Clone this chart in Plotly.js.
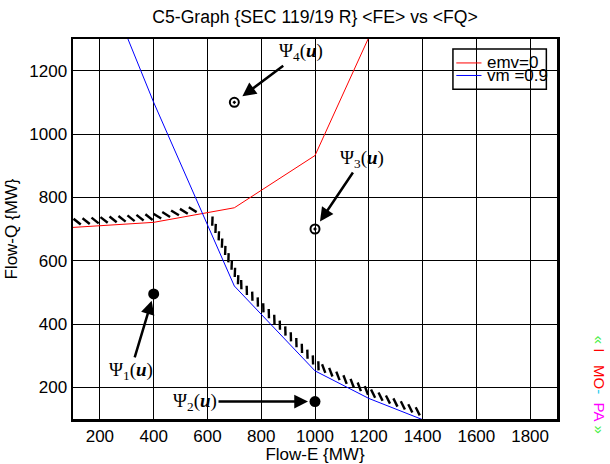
<!DOCTYPE html>
<html>
<head>
<meta charset="utf-8">
<script src="https://cdn.plot.ly/plotly-3.0.1.min.js"></script>
<style>html,body{margin:0;padding:0;background:#fff;}#chart{width:610px;height:464px;}</style>
</head>
<body>
<div id="chart"></div>
<script>
// ---- data ----
const xRange = [100, 1900];
const yRange = [100, 1300];
const xTicks = [200, 400, 600, 800, 1000, 1200, 1400, 1600, 1800];
const yTicks = [200, 400, 600, 800, 1000, 1200];

const emvE = [100, 400, 700, 1000, 1200];
const emvQ = [705, 721, 767, 932, 1305];

const vmE = [290, 400, 700, 1000, 1200, 1400];
const vmQ = [1330, 1100, 520, 252, 165, 98];

// hatched boundary spans (Flow-E ranges) along each curve
const hatchEmvSpan = [100, 558];
const hatchVmSpan = [592, 1378];

// operating points
const psiNames = ['1', '2', '3', '4'];
const psiE = [400, 1000, 1000, 700];
const psiQ = [495, 155, 700, 1100];

// ---- plot geometry ----
const W = 610, H = 464;
const M = {l: 73, r: 53, t: 39, b: 45};
const PW = W - M.l - M.r, PH = H - M.t - M.b;
const toPx = (e, q) => [ (e - xRange[0]) / (xRange[1] - xRange[0]) * PW,
                         (yRange[1] - q) / (yRange[1] - yRange[0]) * PH ];
const toData = (x, y) => [ xRange[0] + x / PW * (xRange[1] - xRange[0]),
                           yRange[1] - y / PH * (yRange[1] - yRange[0]) ];

function interp(xs, ys, x) {
  for (let i = 0; i < xs.length - 1; i++) {
    if (x >= xs[i] && x <= xs[i + 1]) {
      const t = (x - xs[i]) / (xs[i + 1] - xs[i]);
      return ys[i] + t * (ys[i + 1] - ys[i]);
    }
  }
  return null;
}

// hatch marks: resample curve in pixel space, offset to the upper side,
// each mark tilted relative to the local tangent
function hatch(xs, ys, span, step, off) {
  const e0 = span[0], e1 = span[1];
  const poly = [[e0, interp(xs, ys, e0)]];
  xs.forEach((e, i) => { if (e > e0 && e < e1) poly.push([e, ys[i]]); });
  poly.push([e1, interp(xs, ys, e1)]);
  const pp = poly.map(p => toPx(p[0], p[1]));
  let carry = step / 2;
  const outE = [], outQ = [], ang = [];
  for (let i = 0; i < pp.length - 1; i++) {
    const [x0, y0] = pp[i], [x1, y1] = pp[i + 1];
    const dx = x1 - x0, dy = y1 - y0, L = Math.hypot(dx, dy);
    const nx = dy / L, ny = -dx / L;
    const tdeg = Math.atan2(dy, dx) * 180 / Math.PI;
    const dir = Math.min(tdeg + 42, 92);
    let s = carry;
    while (s <= L) {
      const x = x0 + dx * s / L + nx * off;
      const y = y0 + dy * s / L + ny * off;
      const d = toData(x, y);
      outE.push(d[0]); outQ.push(d[1]); ang.push(dir - 45);
      s += step;
    }
    carry = s - L;
  }
  return [outE, outQ, ang];
}

const h1 = hatch(emvE, emvQ, hatchEmvSpan, 9, 5.5);
const h2 = hatch(vmE, vmQ, hatchVmSpan, 8, 6);

const traces = [
  {x: emvE, y: emvQ, mode: 'lines', name: 'emv=0', line: {color: '#ff0000', width: 1}},
  {x: vmE, y: vmQ, mode: 'lines', name: 'vm =0.9', line: {color: '#0000ff', width: 1}},
  {x: h1[0], y: h1[1], mode: 'markers', hoverinfo: 'skip',
   marker: {symbol: 'line-nw', size: 6.5, angle: h1[2], line: {width: 2.4, color: '#000'}}},
  {x: h2[0], y: h2[1], mode: 'markers', hoverinfo: 'skip',
   marker: {symbol: 'line-nw', size: 6.5, angle: h2[2], line: {width: 2.4, color: '#000'}}},
  {x: psiE.slice(0, 2), y: psiQ.slice(0, 2), mode: 'markers',
   marker: {symbol: 'circle', size: 11, color: '#000'}},
  {x: psiE.slice(2), y: psiQ.slice(2), mode: 'markers',
   marker: {symbol: 'circle-open-dot', size: 9, color: '#000', line: {width: 2, color: '#000'}}}
];

const labelOffsets = [[-23, 77, 7], [-120, 0, 7], [47, -70, 9], [67, -50, 10]];
const annotations = psiNames.map((n, i) => ({
  x: psiE[i], y: psiQ[i], xref: 'x', yref: 'y',
  text: '\u03A8<sub>' + n + '</sub>(<b><i>u</i></b>)',
  font: {family: 'Liberation Serif', size: 19, color: '#000'},
  showarrow: true, arrowhead: 2, arrowsize: 1.1, arrowwidth: 2.5, arrowcolor: '#000',
  ax: labelOffsets[i][0], ay: labelOffsets[i][1], standoff: labelOffsets[i][2]
}));

// legend drawn by hand (tight box like the reference)
const legX0 = 0.785, legX1 = 0.978, legY0 = 0.868, legY1 = 0.974;
const legRows = [{name: traces[0].name, color: '#ff0000', y: 0.937},
                 {name: traces[1].name, color: '#0000ff', y: 0.904}];
const shapes = [{type: 'rect', xref: 'paper', yref: 'paper', x0: legX0, x1: legX1, y0: legY0, y1: legY1,
                 line: {color: '#000', width: 1.5}, fillcolor: 'rgba(0,0,0,0)', layer: 'above'}];
legRows.forEach(r => {
  shapes.push({type: 'line', xref: 'paper', yref: 'paper', x0: 0.792, x1: 0.844, y0: r.y, y1: r.y,
               line: {color: r.color, width: 1}, layer: 'above'});
  annotations.push({xref: 'paper', yref: 'paper', x: 0.851, y: r.y, xanchor: 'left', yanchor: 'middle',
                    text: r.name, showarrow: false, font: {family: 'Liberation Sans', size: 17, color: '#000'}});
});

// side mark
annotations.push({
  xref: 'paper', yref: 'paper', x: 1.0868, y: 0.09, xanchor: 'center', yanchor: 'middle',
  textangle: 90, showarrow: false, font: {family: 'Liberation Sans', size: 15, color: '#ff0000'},
  text: '<span style="color:#44ee44">\u00AB</span>\u00A0<span style="color:#ff0000">I\u00A0\u00A0\u00A0MO</span>' +
        '<span style="color:#22ccee">-</span>\u00A0\u00A0<span style="color:#ff00ff">PA</span>' +
        '\u00A0<span style="color:#44ee44">\u00BB</span>'
});

const axisCommon = {
  showgrid: true, gridcolor: '#000', gridwidth: 1, zeroline: false,
  showline: true, mirror: true, linecolor: '#000', linewidth: 2.5,
  ticks: '', tickfont: {family: 'Liberation Sans', size: 17, color: '#000'},
  title: {font: {family: 'Liberation Sans', size: 17, color: '#000'}}
};

const layout = {
  width: W, height: H, margin: M,
  paper_bgcolor: '#fff', plot_bgcolor: '#fff', showlegend: false,
  font: {family: 'Liberation Sans', color: '#000'},
  title: {text: 'C5-Graph {SEC 119/19 R} <FE> vs <FQ>', font: {family: 'Liberation Sans', size: 17.6, color: '#000'},
          x: (M.l + PW / 2) / W, xanchor: 'center', y: 1 - 17 / H, yanchor: 'middle'},
  xaxis: Object.assign({}, axisCommon, {range: xRange, tickmode: 'array', tickvals: xTicks,
          title: {text: 'Flow-E {MW}', font: axisCommon.title.font, standoff: 6}}),
  yaxis: Object.assign({}, axisCommon, {range: yRange, tickmode: 'array', tickvals: yTicks,
          title: {text: 'Flow-Q {MW}', font: axisCommon.title.font, standoff: 8}}),
  annotations: annotations, shapes: shapes
};

Plotly.newPlot('chart', traces, layout, {displayModeBar: false, staticPlot: true});
</script>
</body>
</html>
